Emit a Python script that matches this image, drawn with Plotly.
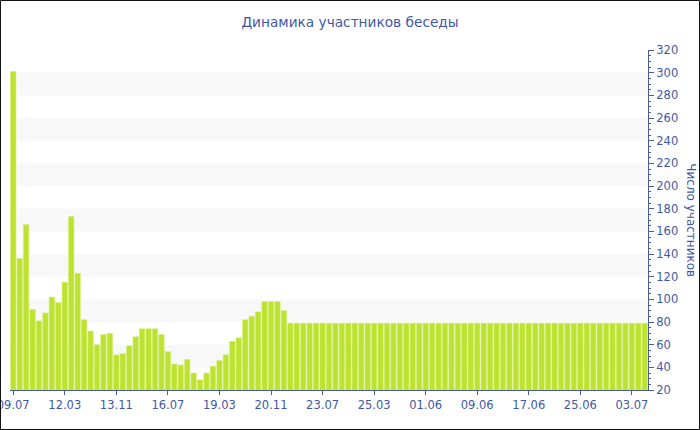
import plotly.graph_objects as go

title_text = "Динамика участников беседы"
y_title = "Число участников"

participants = [
    301, 136, 166, 91, 81, 88, 102, 97, 115, 173,
    123, 82, 72, 60, 69, 70, 51, 52, 59, 67,
    74, 74, 74, 69, 54, 43, 42, 47, 35, 29,
    35, 41, 46, 51, 63, 66, 82, 85, 89, 98,
    98, 98, 90, 79, 79, 79, 79, 79, 79, 79,
    79, 79, 79, 79, 79, 79, 79, 79, 79, 79,
    79, 79, 79, 79, 79, 79, 79, 79, 79, 79,
    79, 79, 79, 79, 79, 79, 79, 79, 79, 79,
    79, 79, 79, 79, 79, 79, 79, 79, 79, 79,
    79, 79, 79, 79, 79, 79, 79, 79, 79,
]
tick_labels = ["09.07", "12.03", "13.11", "16.07", "19.03", "20.11", "23.07",
               "25.03", "01.06", "09.06", "17.06", "25.06", "03.07"]
tick_step = 8

x_idx = list(range(len(participants)))
tick_positions = [i * tick_step for i in range(len(tick_labels))]

text_color = "#3f58a6"
axis_color = "#4a5c9e"
font_family = "DejaVu Sans, Verdana, sans-serif"

fig = go.Figure()
fig.add_trace(go.Bar(
    x=x_idx, y=participants,
    marker=dict(color="#bde22f", line=dict(color="#d6ee80", width=0.6)),
    hoverinfo="y",
))

shapes = []
for lo in range(40, 300, 40):
    shapes.append(dict(type="rect", xref="paper", yref="y", x0=0, x1=1,
                       y0=lo, y1=lo + 20, fillcolor="#f8f8f8",
                       line=dict(width=0), layer="below"))
# outer border
shapes.append(dict(type="rect", xref="paper", yref="paper",
                   x0=-0.0149, x1=1.0807, y0=-0.1162, y1=1.1456,
                   line=dict(color="#111111", width=1), fillcolor="rgba(0,0,0,0)",
                   layer="above"))

fig.update_layout(
    width=700, height=430,
    margin=dict(l=10, r=52, t=50, b=40, autoexpand=False),
    paper_bgcolor="white", plot_bgcolor="white",
    font=dict(family=font_family, color=text_color, size=11),
    title=dict(text=title_text, x=0.5, xref="container", xanchor="center",
               y=0.948, yanchor="middle",
               font=dict(size=13.7, color=text_color, family=font_family)),
    bargap=0.15,
    showlegend=False,
    shapes=shapes,
    annotations=[dict(text=y_title, xref="paper", yref="paper",
                      x=1.067, y=0.5, xanchor="center", yanchor="middle",
                      textangle=90, showarrow=False,
                      font=dict(size=12, color=text_color, family=font_family))],
)

fig.update_xaxes(
    range=[-0.5, len(participants) - 0.5],
    tickmode="array", tickvals=tick_positions, ticktext=tick_labels,
    showgrid=False, zeroline=False, automargin=False,
    ticklabeloverflow="allow",
    showline=True, linecolor=axis_color, linewidth=1,
    ticks="outside", ticklen=4, tickcolor=axis_color,
    tickfont=dict(size=11.5, color=text_color),
)
fig.update_yaxes(
    side="right", range=[20, 320], dtick=20, tick0=0,
    showgrid=False, zeroline=False, automargin=False,
    showline=True, linecolor=axis_color, linewidth=1,
    ticks="outside", ticklen=5, tickcolor=axis_color,
    minor=dict(dtick=5, ticks="outside", ticklen=2, tickcolor=axis_color, showgrid=False),
    tickfont=dict(size=11.5, color=text_color),
)

fig.write_html("out.html", config={"displayModeBar": False},
               post_script="document.body.style.margin='0';")
